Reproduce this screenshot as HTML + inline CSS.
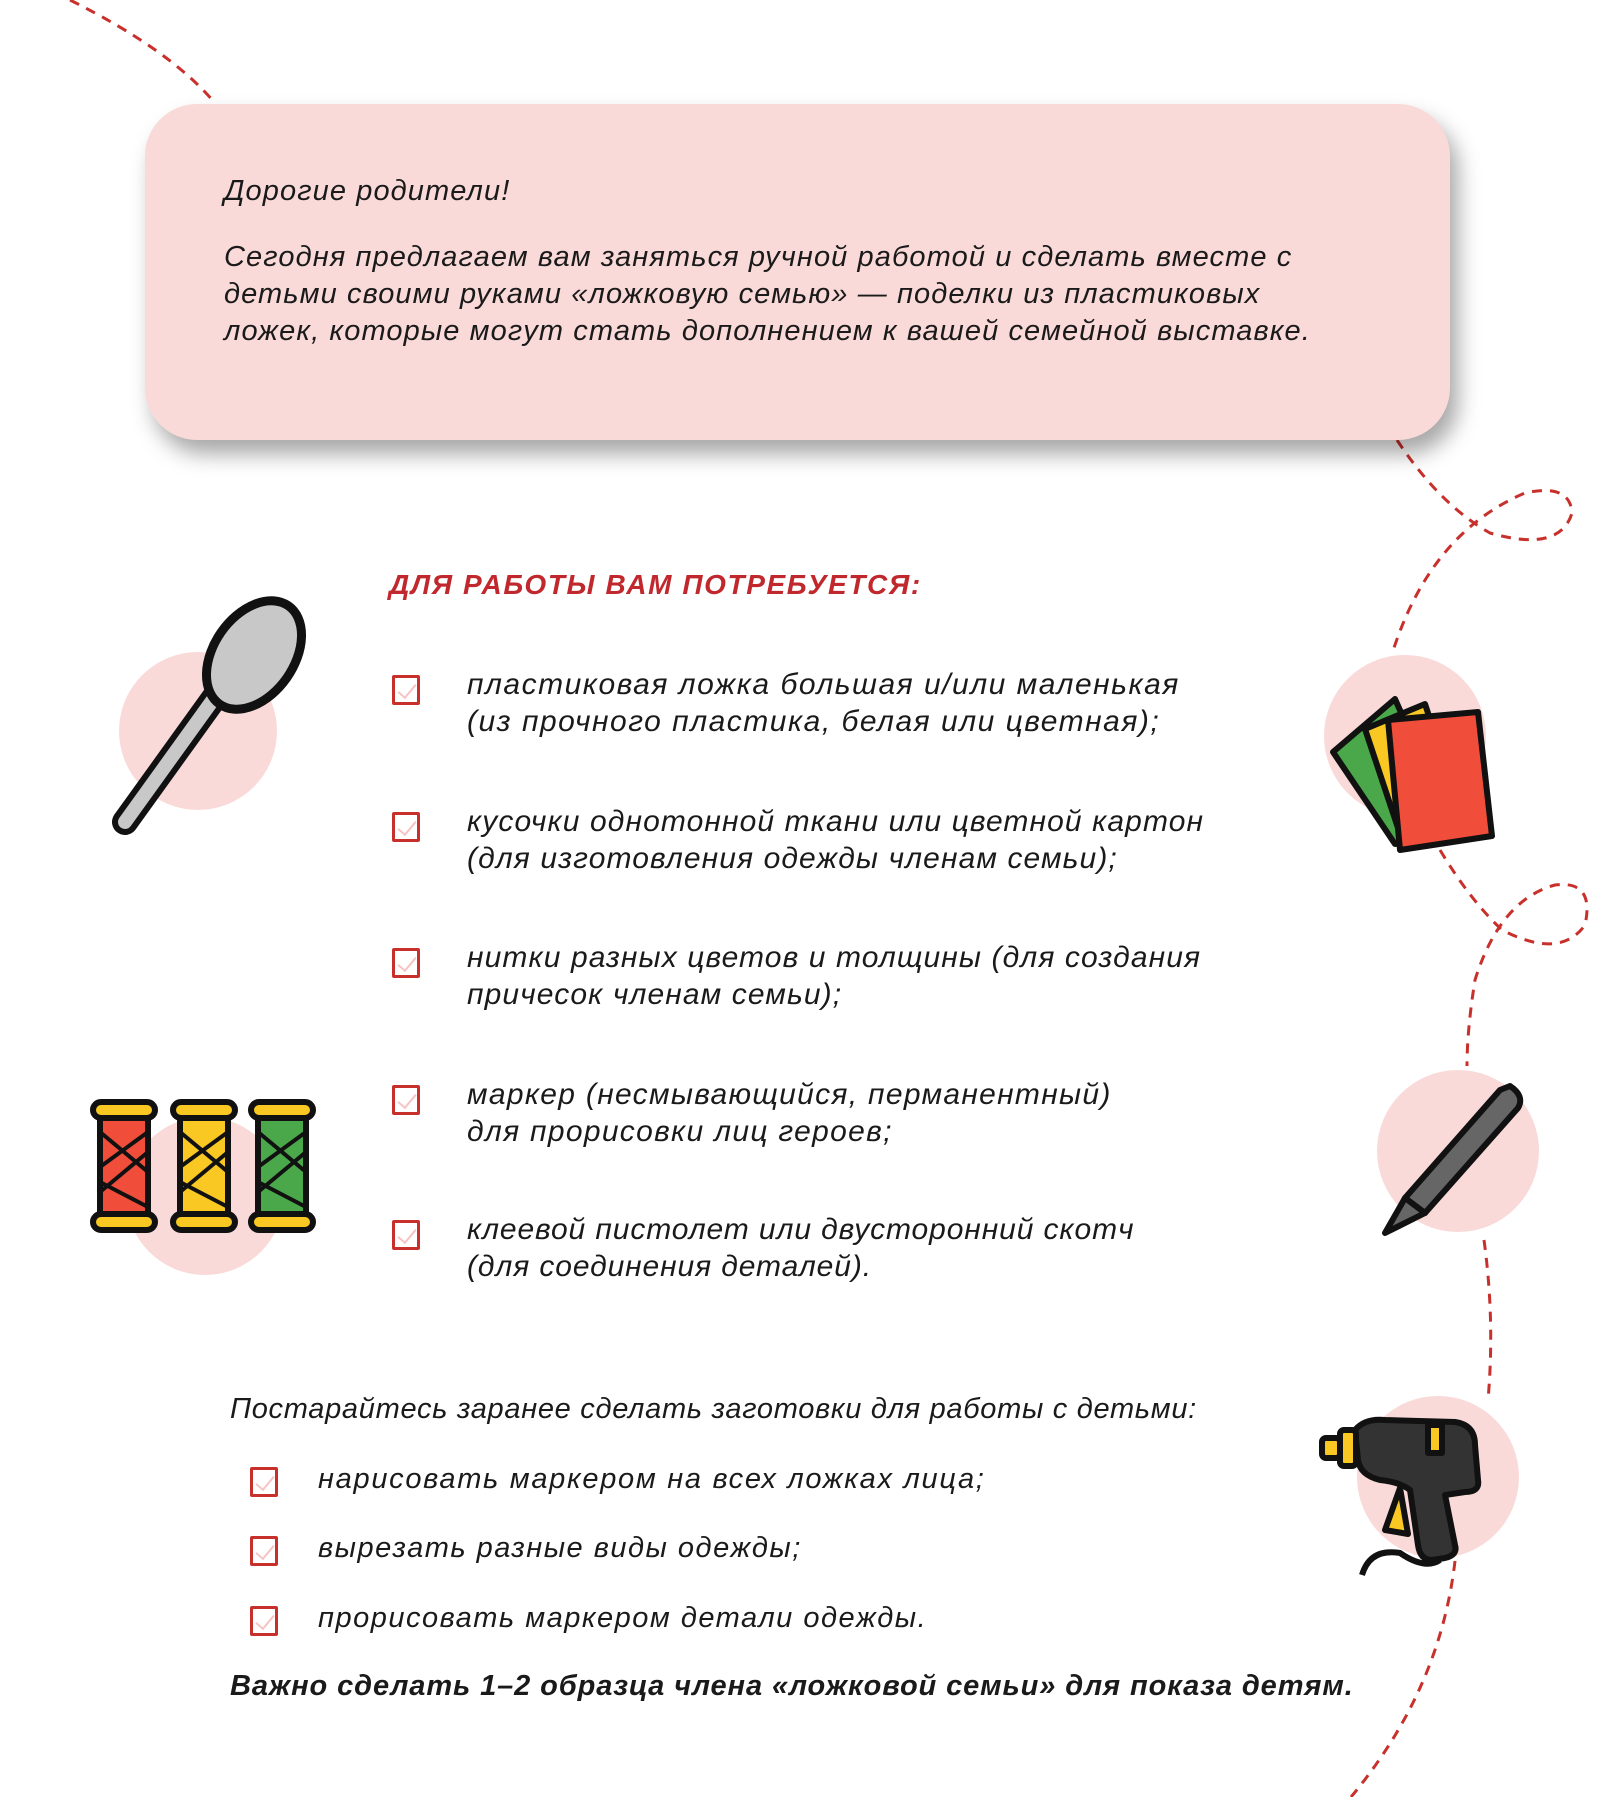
<!DOCTYPE html>
<html><head><meta charset="utf-8"><style>
*{margin:0;padding:0;box-sizing:border-box}
body{width:1600px;height:1797px;background:#fff;position:relative;overflow:hidden;font-family:"Liberation Sans",sans-serif;font-style:italic;color:#1a1a1a}
.t{position:absolute;white-space:nowrap;font-size:29px;letter-spacing:1.1px;line-height:37px}
.l{font-size:30px;letter-spacing:1.1px}
.box{position:absolute;left:145px;top:104px;width:1305px;height:336px;background:#f9dad9;border-radius:52px;box-shadow:8px 14px 22px rgba(0,0,0,0.35)}
.cb{position:absolute;width:28px;height:30px;border:3px solid #c8302c;border-radius:2px}
.cb:after{content:"";position:absolute;left:7px;top:2px;width:8px;height:16px;border-right:2px solid #f5c4c3;border-bottom:2px solid #f5c4c3;transform:rotate(40deg)}
svg{position:absolute;left:0;top:0}
</style></head><body>
<svg width="1600" height="1797" style="z-index:0">
<g fill="none" stroke="#c8302c" stroke-width="3" stroke-dasharray="10 8">
<path d="M70 0 Q170 50 214 102"/>
<path d="M1397 440 Q1440 505 1490 533 Q1560 553 1572 513 Q1570 483 1525 493 Q1430 533 1392 654"/>
<path d="M1440 850 Q1470 900 1502 930 Q1560 960 1585 925 Q1595 880 1555 885 Q1500 900 1475 980 Q1467 1030 1467 1066"/>
<path d="M1484 1240 Q1495 1320 1488 1400"/>
<path d="M1455 1561 Q1440 1690 1351 1797"/>
</g>
<circle cx="198" cy="731" r="79" fill="#f9dad9"/>
<circle cx="205" cy="1196" r="79" fill="#f9dad9"/>
<circle cx="1405" cy="736" r="81" fill="#f9dad9"/>
<circle cx="1458" cy="1151" r="81" fill="#f9dad9"/>
<circle cx="1438" cy="1477" r="81" fill="#f9dad9"/>
<g stroke="#111" stroke-linejoin="round" stroke-linecap="round">
<line x1="125" y1="822" x2="220" y2="690" stroke-width="26"/>
<line x1="125" y1="822" x2="220" y2="690" stroke="#c8c8c8" stroke-width="14"/>
<ellipse cx="254" cy="655" rx="40" ry="60" transform="rotate(35 254 655)" fill="#c8c8c8" stroke-width="9"/>
</g>
<g stroke="#111" stroke-width="6">
<rect x="100" y="1112" width="48" height="110" fill="#f04e3a"/>
<rect x="180" y="1112" width="48" height="110" fill="#f9c823"/>
<rect x="258" y="1112" width="48" height="110" fill="#4aa84a"/>
<rect x="93" y="1102" width="62" height="16" rx="8" fill="#f9c823"/>
<rect x="93" y="1214" width="62" height="16" rx="8" fill="#f9c823"/>
<rect x="173" y="1102" width="62" height="16" rx="8" fill="#f9c823"/>
<rect x="173" y="1214" width="62" height="16" rx="8" fill="#f9c823"/>
<rect x="251" y="1102" width="62" height="16" rx="8" fill="#f9c823"/>
<rect x="251" y="1214" width="62" height="16" rx="8" fill="#f9c823"/>
<path d="M100 1132 L148 1172 M100 1167 L148 1132 M100 1192 L148 1152 M100 1182 L148 1207" stroke-width="4"/>
<path d="M180 1132 L228 1172 M180 1167 L228 1132 M180 1192 L228 1152 M180 1182 L228 1207" stroke-width="4"/>
<path d="M258 1132 L306 1172 M258 1167 L306 1132 M258 1192 L306 1152 M258 1182 L306 1207" stroke-width="4"/>
</g>
<g stroke="#111" stroke-width="6" stroke-linejoin="round">
<path d="M1333 752 L1395 699 L1455 834 L1395 844 Z" fill="#4aa84a"/>
<path d="M1365 729 L1425 704 L1470 839 L1405 849 Z" fill="#f9c823"/>
<path d="M1388 720 L1478 712 L1492 836 L1400 850 Z" fill="#f04e3a"/>
</g>
<g stroke="#111" stroke-width="6" stroke-linejoin="round">
<path d="M1510 1086 Q1525 1096 1518 1108 L1425 1213 L1405 1198 L1500 1090 Z" fill="#666"/>
<path d="M1405 1198 L1425 1213 L1385 1233 Z" fill="#666"/>
</g>
<g stroke="#111" stroke-width="6" stroke-linejoin="round">
<path d="M1355 1430 Q1365 1418 1385 1420 L1455 1422 Q1475 1425 1475 1445 L1478 1480 Q1480 1492 1465 1492 L1445 1495 L1455 1545 Q1458 1555 1445 1558 L1432 1560 Q1420 1560 1418 1545 L1410 1490 Q1400 1482 1380 1480 Q1360 1475 1358 1460 Z" fill="#333"/>
<rect x="1322" y="1438" width="18" height="20" rx="4" fill="#f9c823"/>
<rect x="1340" y="1430" width="16" height="36" rx="4" fill="#f9c823"/>
<path d="M1400 1488 L1385 1530 L1408 1534 Z" fill="#f9c823"/>
<rect x="1428" y="1425" width="14" height="28" fill="#f9c823"/>
<path d="M1362 1575 Q1370 1548 1400 1553 Q1425 1570 1440 1560" fill="none"/>
</g>
</svg>
<div class="box"></div>
<div class="t" style="left:224px;top:173px">Дорогие родители!</div>
<div class="t" style="left:224px;top:239px">Сегодня предлагаем вам заняться ручной работой и сделать вместе с</div>
<div class="t" style="left:224px;top:276px">детьми своими руками «ложковую семью» — поделки из пластиковых</div>
<div class="t" style="left:224px;top:313px">ложек, которые могут стать дополнением к вашей семейной выставке.</div>
<div class="t" style="left:389px;top:566px;color:#c0282d;font-weight:bold;font-size:28px;letter-spacing:1.6px">ДЛЯ РАБОТЫ ВАМ ПОТРЕБУЕТСЯ:</div>
<div class="cb" style="left:392px;top:675px"></div>
<div class="t l" style="left:467px;top:666px;letter-spacing:1.5px">пластиковая ложка большая и/или маленькая<br>(из прочного пластика, белая или цветная);</div>
<div class="cb" style="left:392px;top:812px"></div>
<div class="t l" style="left:467px;top:803px">кусочки однотонной ткани или цветной картон<br>(для изготовления одежды членам семьи);</div>
<div class="cb" style="left:392px;top:948px"></div>
<div class="t l" style="left:467px;top:939px">нитки разных цветов и толщины (для создания<br>причесок членам семьи);</div>
<div class="cb" style="left:392px;top:1085px"></div>
<div class="t l" style="left:467px;top:1076px;letter-spacing:1.3px">маркер (несмывающийся, перманентный)<br>для прорисовки лиц героев;</div>
<div class="cb" style="left:392px;top:1220px"></div>
<div class="t l" style="left:467px;top:1211px;letter-spacing:0.9px">клеевой пистолет или двусторонний скотч<br>(для соединения деталей).</div>
<div class="t" style="left:230px;top:1391px;letter-spacing:0.7px">Постарайтесь заранее сделать заготовки для работы с детьми:</div>
<div class="cb" style="left:250px;top:1467px"></div>
<div class="t" style="left:318px;top:1461px;letter-spacing:1.7px">нарисовать маркером на всех ложках лица;</div>
<div class="cb" style="left:250px;top:1536px"></div>
<div class="t" style="left:318px;top:1530px;letter-spacing:1.5px">вырезать разные виды одежды;</div>
<div class="cb" style="left:250px;top:1606px"></div>
<div class="t" style="left:318px;top:1600px;letter-spacing:1.5px">прорисовать маркером детали одежды.</div>
<div class="t" style="left:230px;top:1668px;font-weight:bold;letter-spacing:0.9px">Важно сделать 1–2 образца члена «ложковой семьи» для показа детям.</div>
</body></html>
